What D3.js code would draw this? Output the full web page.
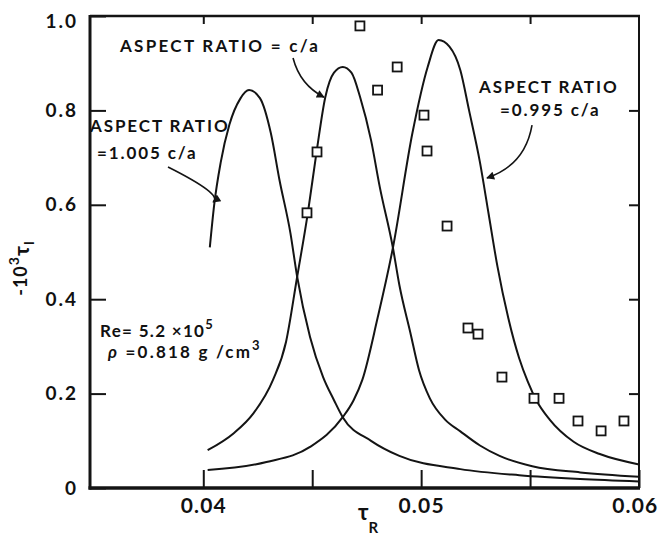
<!DOCTYPE html>
<html>
<head>
<meta charset="utf-8">
<script src="https://cdn.jsdelivr.net/npm/d3@7"></script>
<style>
  html, body { margin: 0; padding: 0; background: #fff; }
  svg { display: block; }
  text { font-family: Lato, "DejaVu Sans", sans-serif; font-weight: 700; fill: #111; }
</style>
</head>
<body>
<svg id="chart" width="662" height="540"></svg>
<script>
// ---- data ----
// Theory curve: aspect ratio = 1.005 c/a  [tauR, -1e3*tauI]
const curve1005 = [
  [0.0403, 0.51], [0.0405, 0.60], [0.0408, 0.69], [0.0412, 0.77], [0.0417, 0.825],
  [0.0421, 0.843], [0.0426, 0.826], [0.0431, 0.752], [0.0435, 0.652], [0.0440, 0.54],
  [0.0443, 0.45], [0.0449, 0.32], [0.0455, 0.235], [0.0460, 0.186], [0.0464, 0.150],
  [0.0477, 0.100], [0.0490, 0.068], [0.0518, 0.040], [0.0545, 0.027], [0.0573, 0.019],
  [0.0600, 0.014]
];
// Theory curve: aspect ratio = c/a
const curve100 = [
  [0.0402, 0.080], [0.0414, 0.116], [0.0423, 0.158], [0.0432, 0.229], [0.0438, 0.31],
  [0.0443, 0.445], [0.0448, 0.583], [0.0452, 0.712], [0.0456, 0.828], [0.0460, 0.880],
  [0.0464, 0.892], [0.0468, 0.880], [0.0472, 0.828], [0.0477, 0.737], [0.0481, 0.638],
  [0.0487, 0.51], [0.0490, 0.43], [0.0495, 0.33], [0.0499, 0.25], [0.0504, 0.19],
  [0.0511, 0.145], [0.0518, 0.120], [0.0527, 0.090], [0.0536, 0.068], [0.0551, 0.046],
  [0.0573, 0.033], [0.0600, 0.024]
];
// Theory curve: aspect ratio = 0.995 c/a
const curve0995 = [
  [0.0402, 0.038], [0.0429, 0.055], [0.0449, 0.087], [0.0464, 0.150], [0.0469, 0.186],
  [0.0473, 0.229], [0.0480, 0.36], [0.0487, 0.508], [0.0496, 0.752], [0.0503, 0.892],
  [0.0508, 0.949], [0.0513, 0.935], [0.0518, 0.885], [0.0522, 0.80], [0.0527, 0.69],
  [0.0531, 0.58], [0.0535, 0.47], [0.0540, 0.36], [0.0545, 0.275], [0.0549, 0.225],
  [0.0553, 0.185], [0.0559, 0.145], [0.0570, 0.098], [0.0582, 0.072], [0.0600, 0.050]
];
// Measured points (squares)
const measTauR = [0.04719, 0.0489, 0.0480, 0.05013, 0.05027, 0.04522, 0.04476, 0.05119,
                  0.05215, 0.05261, 0.05371, 0.05518, 0.05633, 0.0572, 0.05826, 0.05931];
const measTauI = [0.979, 0.892, 0.843, 0.79, 0.714, 0.712, 0.583, 0.555,
                  0.339, 0.326, 0.235, 0.19, 0.19, 0.142, 0.121, 0.142];
// Axis ticks
const xTicks = [0.04, 0.045, 0.05, 0.055, 0.06];
const xTickLabels = ["0.04", "", "0.05", "", "0.06"];
const yTicks = [0, 0.2, 0.4, 0.6, 0.8, 1.0];
const yTickLabels = ["0", "0.2", "0.4", "0.6", "0.8", "1.0"];
// Annotation arrows [start, control, end] in data units
const arrows = [
  [[0.04412, 0.911], [0.04444, 0.854], [0.04554, 0.828]],
  [[0.03838, 0.680], [0.04093, 0.621], [0.04045, 0.606]],
  [[0.05509, 0.769], [0.05477, 0.684], [0.05302, 0.657]]
];

// ---- chart ----
const svg = d3.select("#chart");
const L = 90, R = 639, T = 16, B = 488;
const x = d3.scaleLinear().domain([0.0348, 0.06]).range([L, R]);
const y = d3.scaleLinear().domain([0, 1]).range([B, T]);

const ink = "#141414";

// axes
const gL = svg.append("g").attr("transform", `translate(${L},0)`)
  .call(d3.axisLeft(y).tickValues(yTicks).tickSize(-16).tickPadding(12)
        .tickFormat((d, i) => yTickLabels[i]));
const gB = svg.append("g").attr("transform", `translate(0,${B})`)
  .call(d3.axisBottom(x).tickValues(xTicks).tickSize(-18).tickPadding(10)
        .tickFormat((d, i) => xTickLabels[i]));
const gT = svg.append("g").attr("transform", `translate(0,${T})`)
  .call(d3.axisTop(x).tickValues(xTicks.slice(0, 4)).tickSize(-8).tickFormat(""));
const gR = svg.append("g").attr("transform", `translate(${R},0)`)
  .call(d3.axisRight(y).tickValues(yTicks.slice(1, 5)).tickSize(-10).tickFormat(""));
[gL, gB, gT, gR].forEach(g => {
  g.select(".domain").remove();
  g.selectAll(".tick line").attr("stroke", ink).attr("stroke-width", 2);
});
gL.selectAll(".tick text").attr("font-size", 19).attr("letter-spacing", 2)
  .attr("font-family", "Lato, sans-serif").attr("font-weight", 700).attr("fill", ink);
gL.selectAll(".tick text").filter((d) => d === 1).attr("dy", "0.62em");
gB.selectAll(".tick text").attr("font-size", 21).attr("letter-spacing", 1.2)
  .attr("font-family", "Lato, sans-serif").attr("font-weight", 700).attr("fill", ink);
gB.selectAll(".tick text").filter((d) => d === 0.06).attr("text-anchor", "end").attr("dx", 19);

// frame
svg.append("line").attr("x1", L).attr("x2", L).attr("y1", T - 1).attr("y2", B + 1.5)
  .attr("stroke", ink).attr("stroke-width", 3);
svg.append("line").attr("x1", L - 1.5).attr("x2", R + 1).attr("y1", B).attr("y2", B)
  .attr("stroke", ink).attr("stroke-width", 3.5);
svg.append("line").attr("x1", L).attr("x2", R + 1).attr("y1", T).attr("y2", T)
  .attr("stroke", ink).attr("stroke-width", 2.5);
svg.append("line").attr("x1", R).attr("x2", R).attr("y1", T).attr("y2", B)
  .attr("stroke", ink).attr("stroke-width", 2);

// curves
const line = d3.line().x(d => x(d[0])).y(d => y(d[1])).curve(d3.curveMonotoneX);
[curve1005, curve100, curve0995].forEach(c => {
  svg.append("path").datum(c).attr("d", line)
    .attr("fill", "none").attr("stroke", ink).attr("stroke-width", 2);
});

// measured squares
const sq = 9;
svg.append("g").selectAll("rect").data(measTauR).join("rect")
  .attr("x", (d) => x(d) - sq / 2)
  .attr("y", (d, i) => y(measTauI[i]) - sq / 2)
  .attr("width", sq).attr("height", sq)
  .attr("fill", "#fff").attr("stroke", ink).attr("stroke-width", 1.8);

// arrows
svg.append("defs").append("marker").attr("id", "ah")
  .attr("viewBox", "0 0 10 10").attr("refX", 9).attr("refY", 5)
  .attr("markerWidth", 11).attr("markerHeight", 8).attr("markerUnits", "userSpaceOnUse")
  .attr("orient", "auto")
  .append("path").attr("d", "M0,0 L10,5 L0,10 Z").attr("fill", ink);
arrows.forEach(a => {
  const p = d3.path();
  p.moveTo(x(a[0][0]), y(a[0][1]));
  p.quadraticCurveTo(x(a[1][0]), y(a[1][1]), x(a[2][0]), y(a[2][1]));
  svg.append("path").attr("d", p.toString()).attr("fill", "none")
    .attr("stroke", ink).attr("stroke-width", 1.6).attr("marker-end", "url(#ah)");
});

// annotation text
function label(tx, ty, str, size, ls) {
  return svg.append("text").attr("x", tx).attr("y", ty).attr("font-size", size || 17)
    .attr("letter-spacing", ls == null ? 1.9 : ls).text(str);
}
label(120, 52, "ASPECT RATIO = c/a", 17, 2.3);
label(90, 132, "ASPECT RATIO");
label(97, 159, "=1.005 c/a");
label(479, 93, "ASPECT RATIO");
label(500, 116, "=0.995 c/a");

const re = svg.append("text").attr("x", 100).attr("y", 337).attr("font-size", 17).attr("letter-spacing", 1.3);
re.append("tspan").text("Re= 5.2 ×10");
re.append("tspan").attr("dy", -8).attr("font-size", 13).text("5");
const rho = svg.append("text").attr("x", 108).attr("y", 358).attr("font-size", 17).attr("letter-spacing", 2.2);
rho.append("tspan").attr("font-style", "italic").text("ρ");
rho.append("tspan").text(" =0.818 g /cm");
rho.append("tspan").attr("dy", -8).attr("font-size", 13).text("3");

// axis titles
const xt = svg.append("text").attr("x", 358).attr("y", 520).attr("font-size", 22);
xt.append("tspan").text("τ");
xt.append("tspan").attr("dy", 13).attr("font-size", 15).text("R");

const yt = svg.append("text").attr("transform", "translate(27,268) rotate(-90)")
  .attr("text-anchor", "middle").attr("font-size", 18).attr("letter-spacing", 1);
yt.append("tspan").text("-10");
yt.append("tspan").attr("dy", -8).attr("font-size", 14).text("3");
yt.append("tspan").attr("dy", 10).attr("font-size", 21).text("τ");
yt.append("tspan").attr("dy", 5).attr("font-size", 13).text("I");
</script>
</body>
</html>
